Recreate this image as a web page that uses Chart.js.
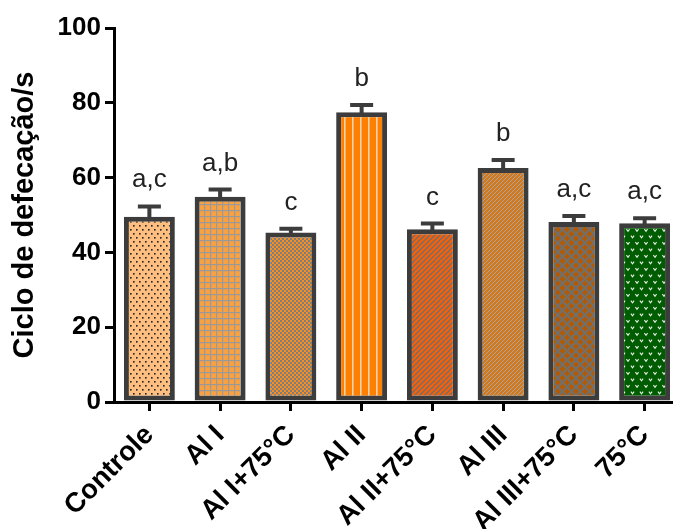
<!DOCTYPE html>
<html>
<head>
<meta charset="utf-8">
<script src="https://cdn.jsdelivr.net/npm/chart.js@4"></script>
<style>
  html, body { margin:0; padding:0; background:#fff; overflow:hidden; }
  #wrap { width:673px; height:529px; overflow:hidden; }
</style>
</head>
<body>
<div id="wrap"><canvas id="chart-ciclo" width="700" height="529"></canvas></div>
<script>
// ============ DADOS ============
var grupos  = ['Controle', 'Al I', 'Al I+75°C', 'Al II', 'Al II+75°C', 'Al III', 'Al III+75°C', '75°C'];
var medias  = [49.5, 54.9, 45.3, 77.5, 46.2, 62.6, 48.1, 47.8];
var erros   = [2.8, 1.9, 1.0, 1.9, 1.5, 2.1, 1.6, 1.3];
var letras  = ['a,c', 'a,b', 'c', 'b', 'c', 'b', 'a,c', 'a,c'];
var yTicks  = [0, 20, 40, 60, 80, 100];

// ============ PADRÕES ============
function padrao(w, h, fundo, desenhar) {
  var c = document.createElement('canvas');
  c.width = w; c.height = h;
  var g = c.getContext('2d');
  g.fillStyle = fundo;
  g.fillRect(0, 0, w, h);
  desenhar(g, w, h);
  return document.getElementById('chart-ciclo').getContext('2d').createPattern(c, 'repeat');
}

function diagonais(cor, largura) {
  return function(g, w, h) {
    g.strokeStyle = cor; g.lineWidth = largura;
    g.beginPath();
    g.moveTo(0, h); g.lineTo(w, 0);
    g.moveTo(-w, h); g.lineTo(0, 0);
    g.moveTo(0, 2 * h); g.lineTo(2 * w, 0);
    g.stroke();
  };
}

var preenchimentos = [
  // Controle: pontos
  padrao(6, 8, '#FDBE80', function(g) {
    g.fillStyle = '#222';
    g.fillRect(1, 1, 1.6, 1.6);
    g.fillRect(4, 5, 1.6, 1.6);
  }),
  // Al I: grade
  padrao(6, 6, '#F9A040', function(g) {
    g.fillStyle = '#9a9a9a';
    g.fillRect(0, 0, 6, 1.2);
    g.fillRect(0, 0, 1.2, 6);
  }),
  // Al I+75°C: xadrez fino
  padrao(4, 4, '#F88E1E', function(g) {
    g.fillStyle = '#7e7e7e';
    g.fillRect(0, 0, 2, 2);
    g.fillRect(2, 2, 2, 2);
  }),
  // Al II: listras verticais
  padrao(8, 8, '#FF8000', function(g) {
    g.fillStyle = '#F2D2AE';
    g.fillRect(0, 0, 1.6, 8);
  }),
  // Al II+75°C: diagonais
  padrao(5, 5, '#FF5E00', diagonais('#707070', 1.5)),
  // Al III: diagonais finas
  padrao(4, 4, '#D4781C', diagonais('#A6A6A6', 1)),
  // Al III+75°C: losangos
  padrao(9, 9, '#B35A00', function(g) {
    g.strokeStyle = '#707070'; g.lineWidth = 2;
    g.beginPath();
    g.moveTo(0, 0); g.lineTo(9, 9);
    g.moveTo(9, 0); g.lineTo(0, 9);
    g.stroke();
  }),
  // 75°C: "v" brancos
  padrao(9, 13, '#005C00', function(g) {
    g.strokeStyle = '#e8f0e8'; g.lineWidth = 1.1;
    [[2.5, 3], [7, 9.5]].forEach(function(p) {
      g.beginPath();
      g.moveTo(p[0] - 1.6, p[1] - 1.4);
      g.lineTo(p[0], p[1] + 0.8);
      g.lineTo(p[0] + 1.6, p[1] - 1.4);
      g.stroke();
    });
  })
];

// ============ ERRO + LETRAS ============
var barrasErro = {
  id: 'barrasErro',
  afterDatasetsDraw: function(chart) {
    var ctx = chart.ctx;
    var y = chart.scales.y;
    var meta = chart.getDatasetMeta(0);
    ctx.save();
    meta.data.forEach(function(bar, i) {
      var yTop = y.getPixelForValue(medias[i]);
      var yErr = y.getPixelForValue(medias[i] + erros[i]);
      ctx.strokeStyle = '#3c3c3c';
      ctx.lineWidth = 4;
      ctx.beginPath();
      ctx.moveTo(bar.x, yTop + 3);
      ctx.lineTo(bar.x, yErr);
      ctx.moveTo(bar.x - 11.5, yErr);
      ctx.lineTo(bar.x + 11.5, yErr);
      ctx.stroke();

      ctx.fillStyle = '#222';
      ctx.font = '26px "Liberation Sans", Arial, sans-serif';
      ctx.textAlign = 'center';
      ctx.textBaseline = 'alphabetic';
      ctx.fillText(letras[i], bar.x, yErr - 19);
    });
    ctx.restore();
  }
};

new Chart(document.getElementById('chart-ciclo'), {
  type: 'bar',
  data: {
    labels: grupos,
    datasets: [{
      data: medias,
      backgroundColor: preenchimentos,
      borderColor: '#3c3c3c',
      borderWidth: 5,
      borderSkipped: false,
      barPercentage: 0.72,
      categoryPercentage: 1
    }]
  },
  options: {
    responsive: false,
    animation: false,
    layout: { padding: { left: 0, right: 20, top: 28, bottom: 0 } },
    plugins: { legend: { display: false }, tooltip: { enabled: false } },
    scales: {
      x: {
        offset: true,
        grid: { display: true, offset: false, drawOnChartArea: false, drawTicks: true, tickLength: 9, color: '#000', lineWidth: 3 },
        border: { display: true, color: '#000', width: 3 },
        ticks: {
          color: '#000',
          font: { family: '"Liberation Sans", Arial, sans-serif', size: 27.5, weight: 'bold' },
          minRotation: 45, maxRotation: 45, padding: 8, autoSkip: false
        },
        afterFit: function(scale) { scale.height = 127; }
      },
      y: {
        min: 0, max: 100,
        afterBuildTicks: function(scale) { scale.ticks = yTicks.map(function(v) { return { value: v }; }); },
        grid: { display: true, drawOnChartArea: false, drawTicks: true, tickLength: 9, color: '#000', lineWidth: 3 },
        border: { display: true, color: '#000', width: 3 },
        ticks: {
          color: '#000',
          font: { family: '"Liberation Sans", Arial, sans-serif', size: 26, weight: 'bold' },
          padding: 4
        },
        title: {
          display: true,
          text: 'Ciclo de defecação/s',
          color: '#000',
          font: { family: '"Liberation Sans", Arial, sans-serif', size: 29, weight: 'bold' },
          padding: { top: 8, bottom: 0 }
        },
        afterFit: function(scale) { scale.width = 114; }
      }
    }
  },
  plugins: [barrasErro]
});
</script>
</body>
</html>
